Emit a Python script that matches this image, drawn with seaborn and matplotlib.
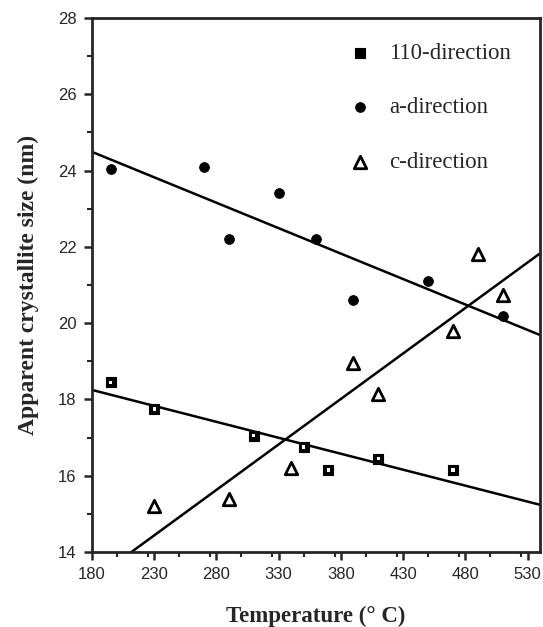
import numpy as np
import pandas as pd
import matplotlib
matplotlib.use('Agg')
import matplotlib.pyplot as plt
from matplotlib.ticker import MultipleLocator
import seaborn as sns

# data
temp_110 = [195, 230, 310, 350, 370, 410, 470]
size_110 = [18.45, 17.75, 17.05, 16.75, 16.15, 16.45, 16.15]

temp_a = [195, 270, 290, 330, 360, 390, 450, 510]
size_a = [24.05, 24.1, 22.2, 23.4, 22.2, 20.6, 21.1, 20.2]

temp_c = [230, 290, 340, 390, 410, 470, 490, 510]
size_c = [15.2, 15.4, 16.2, 18.95, 18.15, 19.8, 21.8, 20.75]

x_ticks = [180, 230, 280, 330, 380, 430, 480, 530]
y_ticks = [14, 16, 18, 20, 22, 24, 26, 28]

sns.set_style('ticks')
plt.rcParams['font.family'] = ['Liberation Serif', 'DejaVu Serif']

fig = plt.figure(figsize=(5.43, 6.27), dpi=100)
ax = fig.add_axes([92 / 543, 1 - 552 / 627, 448 / 543, 534 / 627])
ax.set_xlim(180, 540)
ax.set_ylim(14, 28)

# fitted lines (drawn first so markers sit on top)
for xs, ys in [(temp_110, size_110), (temp_a, size_a), (temp_c, size_c)]:
    sns.regplot(x=np.array(xs), y=np.array(ys), ax=ax, scatter=False, ci=None,
                truncate=False, color='black', line_kws={'lw': 1.8})

sns.scatterplot(x=temp_110, y=size_110, ax=ax, marker='s', s=55, color='black',
                edgecolor='black', linewidth=0.8, label='110-direction', zorder=5)
sns.scatterplot(x=temp_110, y=size_110, ax=ax, marker='s', s=6, color='white',
                edgecolor='none', linewidth=0, zorder=6, legend=False)
sns.scatterplot(x=temp_a, y=size_a, ax=ax, marker='o', s=50, color='black',
                edgecolor='black', label='a-direction', zorder=5)
sns.scatterplot(x=temp_c, y=size_c, ax=ax, marker='^', s=80, facecolor='white',
                edgecolor='black', linewidth=2, label='c-direction', zorder=5)

ax.set_xlim(180, 540)
ax.set_ylim(14, 28)
ax.set_xticks(x_ticks)
ax.set_yticks(y_ticks)
ax.xaxis.set_minor_locator(MultipleLocator(25))
ax.yaxis.set_minor_locator(MultipleLocator(1))
ax.tick_params(which='major', direction='out', length=6, width=1.8, pad=5,
               labelsize=12, top=False, right=False)
ax.tick_params(which='minor', direction='out', length=3.5, width=1.5,
               top=False, right=False)
for lab in ax.get_xticklabels() + ax.get_yticklabels():
    lab.set_family('Liberation Sans')
for sp in ax.spines.values():
    sp.set_linewidth(2)
    sp.set_visible(True)

ax.set_xlabel('Temperature (° C)', fontsize=16.5, fontweight='bold', labelpad=17)
ax.set_ylabel('Apparent crystallite size (nm)', fontsize=17, fontweight='bold',
              labelpad=14)

ax.legend(loc='upper left', bbox_to_anchor=(349 / 543, 1 - 43 / 627),
          bbox_transform=fig.transFigure, frameon=False, fontsize=16.5,
          handlelength=1.0, handletextpad=0.75, labelspacing=1.45,
          borderpad=0, borderaxespad=0)

fig.savefig('out.png', dpi=100)
